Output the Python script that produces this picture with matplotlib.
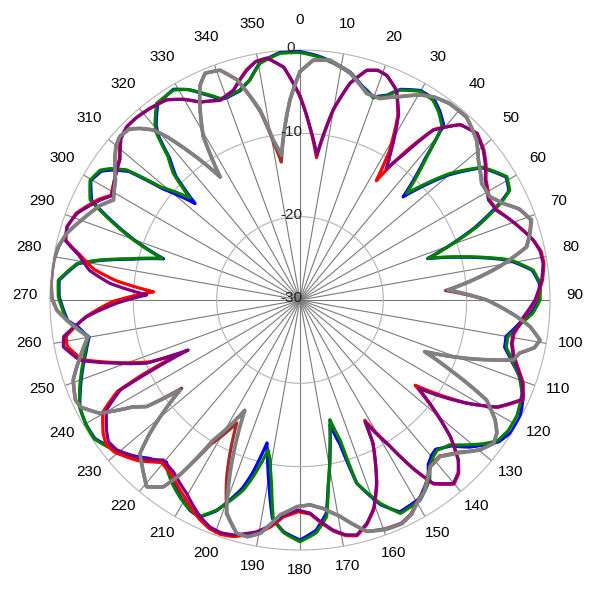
import numpy as np
import matplotlib
matplotlib.use("Agg")
import matplotlib.pyplot as plt
import matplotlib.transforms as mtransforms

# ---------------- data (angle in degrees, level in dB) ----------------
green_deg = [0, 4, 8, 12.4, 16, 19.9, 23, 25.5, 29.9, 33.6, 36.5, 39.3, 41.5, 45, 46.6, 49.8, 54, 59.2,
             62.4, 64, 67.5, 72, 74.9, 79.2, 82.7, 86, 90, 93.2, 96, 100, 103, 106.5, 109, 112.8, 118,
             122, 125.5, 128, 131, 134, 137.7, 139.6, 142, 144.2, 149, 154.8, 158.5, 162.8, 164, 166,
             168.7, 171.2, 173, 176, 180, 184, 186.9, 188.8, 190.6, 192, 194.8, 196.6, 201.6, 204.8,
             207.6, 211, 215, 219.5, 223.8, 227, 231.2, 236, 240, 244, 248.5, 256, 260, 263, 265, 270.8,
             274.7, 279.3, 281.3, 283.6, 286.8, 289.8, 292.8, 295.5, 299.7, 303, 304.7, 306.9, 309,
             312.8, 315, 317.4, 319.3, 320.6, 323.9, 329, 332, 334.9, 338.4, 340.2, 344, 347.2, 350.4,
             355.4]
green_db = [-0.3, -0.7, -1.3, -2.1, -3.3, -4.2, -3.4, -2.1, -1.1, -1.2, -2.0, -3.1, -7.0, -11.9, -10.2,
            -6.5, -2.9, -1.1, -1.6, -3.0, -7.0, -13.8, -10.1, -4.3, -1.8, -1.1, -1.2, -2.0, -3.3, -4.7,
            -4.6, -3.3, -2.2, -1.1, -0.5, -0.5, -0.9, -2.0, -3.5, -5.0, -5.6, -5.3, -4.7, -3.4, -2.0,
            -1.7, -3.8, -7.0, -12.5, -15.2, -11.6, -7.7, -3.8, -2.0, -1.0, -2.0, -3.4, -7.7, -10.5,
            -11.6, -8.1, -6.2, -2.9, -1.4, -1.55, -2.2, -3.2, -4.6, -3.5, -2.5, -1.3, -0.2, -0.3, -0.6,
            -1.6, -3.4, -4.2, -3.0, -1.9, -1.0, -0.9, -2.9, -5.5, -9.0, -12.7, -8.8, -5.3, -2.1, -1.0,
            -1.4, -2.3, -4.0, -8.4, -12.0, -8.5, -6.6, -3.6, -2.6, -0.8, -0.6, -1.4, -2.6, -4.0, -4.1,
            -3.8, -2.9, -1.2, -0.3]

blue_deg = [0, 4, 8, 12.4, 16, 19.9, 23, 25.5, 29.9, 33.6, 36.5, 39.3, 41.5, 45, 46.6, 49.8, 54, 59.2,
            62.4, 64, 67.5, 72, 74.9, 79.2, 82.7, 86, 90, 93.2, 96, 100, 103, 106.5, 109, 112.8, 118,
            122, 125.5, 128, 131, 134, 137.7, 139.6, 142, 144.2, 149, 154.8, 158.5, 162.8, 164.5, 166.5,
            169, 171.4, 173, 176, 180, 184, 187.2, 189.5, 191.5, 193, 195.4, 197, 201.6, 204.8,
            207.6, 211, 215, 219.5, 223.8, 227, 231.2, 236, 240, 244, 248.5, 256, 260, 263, 265, 270.8,
            274.7, 279.3, 281.3, 283.6, 286.8, 289.8, 292.8, 295.5, 299.7, 303, 304.7, 306.9, 309,
            312.6, 315, 317.4, 319.3, 320.6, 323.9, 329, 332, 334.9, 338.4, 340.2, 344, 347.2, 350.4,
            355.4]
blue_db = [-0.2, -0.6, -1.2, -2.0, -3.2, -4.1, -3.3, -2.0, -1.0, -1.0, -1.8, -2.8, -7.3, -12.5, -10.6,
           -6.8, -3.0, -1.2, -1.7, -3.2, -7.3, -13.9, -10.3, -4.5, -1.9, -1.2, -1.3, -2.2, -3.5, -4.9,
           -4.8, -3.4, -2.2, -0.9, -0.1, -0.1, -0.7, -1.8, -3.1, -4.8, -5.8, -5.6, -5.0, -3.7, -2.2,
           -1.9, -3.6, -7.0, -12.0, -14.6, -11.2, -7.4, -4.2, -2.3, -1.2, -2.1, -3.6, -7.5, -10.5,
           -12.4, -8.4, -6.4, -2.8, -1.3, -1.5, -2.3, -3.4, -4.8, -3.7, -2.6, -1.4, -0.3, -0.3, -0.6,
           -1.7, -3.5, -4.3, -3.2, -2.0, -1.1, -1.0, -3.0, -5.7, -9.2, -12.9, -9.0, -5.5, -2.3, -1.1,
           -1.6, -2.6, -4.3, -8.8, -12.9, -8.9, -6.9, -3.9, -2.8, -1.0, -0.5, -1.4, -2.7, -4.1, -4.2,
           -3.9, -2.9, -1.1, -0.2]

purple_deg = [0, 3.3, 6.6, 9.9, 13, 16.2, 18.7, 21.1, 24.7, 28, 31, 33.3, 35.5, 38.1, 42.4, 46.7, 50.7,
              54, 57, 62, 65.5, 69.1, 75.6, 78.5, 81.4, 85.3, 90, 94.3, 98.9, 101.6, 104.5, 107, 110.5,
              114.1, 118.5, 121.8, 126.7, 129.7, 132.3, 135.3, 137.5, 140.1, 144, 146, 148.5, 151.9,
              153, 157.3, 160.5, 163.4, 166.4, 169, 171.8, 177.3, 180.5, 184.4, 187.5, 190.6, 195.8,
              198.8, 201.7, 204.8, 210.4, 216.4, 220.5, 225.3, 230.7, 233.5, 236, 240.4, 243.4, 244.4,
              245.9, 247.6, 251.3, 254.7, 258.8, 261.2, 265.5, 269, 271.9, 275, 278, 281.5, 284.3, 287.5,
              291.2, 296.6, 299, 304, 308, 312, 315, 318, 322, 326.3, 330, 333.2, 338.2, 342.4, 347,
              349.5, 352.2, 356]
purple_db = [-5.6, -9.2, -12.5, -6.8, -3.3, -1.3, -0.9, -1.1, -2.3, -4.8, -8.5, -11.2, -8.5, -4.1,
             -1.5, -0.85, -1.6, -2.5, -3.5, -4.4, -4.1, -3.0, -1.1, -0.6, -0.5, -0.9, -1.8, -3.1, -4.1,
             -4.1, -3.6, -2.8, -1.5, -0.8, -3.1, -6.5, -12.3, -8.7, -5.6, -3.0, -1.9, -1.3, -2.8, -5.5,
             -9.5, -13.4, -10.7, -6.2, -3.5, -2.0, -1.0, -1.3, -2.1, -4.4, -4.8, -4.1, -2.7, -1.7,
             -0.7, -0.5, -0.7, -1.4, -3.1, -4.4, -4.75, -3.0, -1.6, -1.4, -2.0, -3.3, -5.9, -9.6, -15.3,
             -10.1, -6.4, -2.6, -1.05, -1.3, -4.3, -8.0, -11.6, -7.1, -4.5, -2.9, -0.9, -0.7, -1.3,
             -3.2, -4.2, -3.3, -2.6, -1.1, -0.6, -0.6, -0.8, -1.15, -2.2, -3.4, -4.2, -3.6, -1.7, -0.9,
             -0.7, -2.0]

red_deg = [0, 3.3, 6.6, 9.9, 13, 16.2, 18.7, 21.1, 24.7, 28, 31, 32.6, 35.5, 38.1, 42.4, 46.7, 50.7,
           54, 57, 62, 65.5, 69.1, 75.6, 78.5, 81.4, 85.3, 90, 94.3, 98.9, 101.6, 104.5, 107, 110.5,
           114.1, 118.5, 121.8, 126.5, 129.7, 132.3, 135.3, 137.5, 140.1, 144, 146, 148.5, 151.7,
           153, 157.3, 160.5, 163.4, 166.4, 169, 171.8, 177.3, 180.5, 184.4, 187.5, 190.6, 195.8,
           198.8, 201.7, 204.8, 210.4, 216.4, 220.5, 225.3, 230.7, 233.5, 236, 240.4, 243.4, 244.6,
           246, 247.6, 251.3, 254.7, 258.8, 261.2, 265.5, 269.5, 273.2, 276, 278.5, 281.5, 284.3, 287.5,
           291.2, 296.6, 299, 304, 308, 312, 315, 318, 322, 326.3, 330, 333.2, 338.2, 342.4, 347,
           349.5, 352.2, 356]
red_db = [-5.5, -9.3, -12.8, -6.9, -3.3, -1.3, -0.9, -1.1, -2.3, -5.0, -9.2, -13.0, -8.0, -4.0,
          -1.5, -0.8, -1.5, -2.4, -3.4, -4.3, -4.0, -3.0, -1.1, -0.5, -0.4, -0.8, -1.7, -3.0, -4.0,
          -4.0, -3.5, -2.7, -1.4, -0.7, -3.0, -6.6, -12.8, -8.8, -5.6, -3.0, -1.8, -1.2, -2.7, -5.4,
          -9.6, -13.6, -10.8, -6.1, -3.4, -1.9, -0.9, -1.2, -2.0, -4.3, -4.6, -3.9, -2.5, -1.5,
          -0.5, -0.3, -0.5, -1.1, -2.6, -4.0, -4.4, -2.6, -1.2, -1.0, -1.5, -2.8, -5.5, -9.0, -14.2,
          -10.5, -6.6, -2.9, -1.5, -1.6, -4.2, -7.5, -12.4, -7.8, -5.0, -3.1, -1.0, -0.7, -1.2,
          -3.0, -4.1, -3.3, -2.5, -1.0, -0.6, -0.6, -0.8, -1.1, -2.2, -3.4, -4.2, -3.6, -1.6, -0.9,
          -0.7, -2.0]

gray_deg = [0, 3.2, 7.1, 12.4, 17.9, 21.6, 26.2, 30.3, 33.5, 37.3, 42.3, 47.8, 51.9, 57.3, 61.5, 64.6,
            67.5, 70.9, 73.8, 76.8, 80.5, 86.1, 90, 94.4, 96.6, 99.5, 101.5, 103.6, 105.7, 109.3, 112.5,
            115, 118.2, 121.6, 124, 126.5, 129.8, 134, 138.2, 142, 144.5, 147, 150, 152.5, 155.5, 159.5,
            163.9, 169.5, 173.5, 177.2, 180.9, 185.3, 189.7, 192.5, 195.2, 199, 202, 206.6, 211.8,
            214.5, 216.2, 219.4, 222.1, 226.2, 228.4, 233.1, 235.2, 237.4, 240.5, 244, 246, 250.6,
            255.5, 260.2, 264.2, 267.6, 270.5, 273.8, 276.5, 279.2, 282.5, 286, 290.5, 295.4, 298.2,
            303, 307.8, 310, 312.2, 315, 317, 319.2, 320.8, 322.9, 327, 329.4, 333, 335, 337.3, 340.8,
            344, 348.1, 350.5, 352.7, 357.1]
gray_db = [-2.6, -1.15, -1.0, -2.1, -3.95, -4.0, -2.8, -1.5, -0.8, -0.35, -0.3, -1.4, -2.8, -4.1,
           -4.05, -3.0, -1.5, -0.6, -1.25, -2.05, -5.7, -12.2, -7.6, -3.9, -2.2, -0.8, -1.3, -2.9,
           -3.4, -8.8, -13.8, -10.1, -4.6, -2.5, -1.5, -1.1, -1.9, -3.6, -4.8, -4.6, -3.6, -2.6, -1.9,
           -1.0, -0.5, -0.6, -1.1, -3.6, -4.8, -5.4, -5.2, -4.1, -1.6, -0.9, -1.0, -2.9, -7.6, -15.2,
           -10.2, -4.5, -2.2, -1.0, -2.0, -3.4, -5.9, -12.0, -7.6, -6.2, -2.4, -0.7, -0.5, -1.15,
           -2.75, -4.2, -2.3, -0.8, -0.2, -0.05, -0.02, -0.05, -0.3, -0.9, -2.2, -3.5, -4.6, -3.6,
           -1.9, -1.2, -0.8, -1.0, -1.85, -3.05, -4.7, -7.4, -12.4, -7.2, -3.5, -1.6, -0.5, -0.8,
           -2.5, -6.7, -10.5, -12.5, -6.0]

brown_deg = [0, 3.2, 7.1, 12.4, 17.9, 21.6, 26.2, 30.3, 33.5, 37.3, 42.3, 47.8, 51.9, 57.3, 61.5, 64.6,
             67.5, 70.9, 73.8, 76.8, 80.5, 86.3, 90, 94.4, 96.6, 99.5, 101.5, 103.6, 105.7, 109.3, 112.5,
             115, 118.2, 121.6, 124, 126.5, 129.8, 134, 138.2, 142, 144.5, 147, 150, 152.5, 155.5, 159.5,
             163.9, 169.5, 173.5, 177.2, 180.9, 185.3, 189.7, 192.5, 195.2, 199, 202.5, 207.2, 211.8,
             214.5, 216.2, 219.4, 222.1, 226.2, 228.4, 233.3, 235.2, 237.4, 240.5, 244, 246, 250.6,
             255.5, 260.2, 264.2, 267.6, 270.5, 273.8, 276.5, 279.2, 282.5, 286, 290.5, 295.4, 298.2,
             303, 307.8, 310, 312.2, 315, 317, 319.2, 320.8, 322.9, 327, 329.4, 333, 335, 337.3, 340.8,
             344, 348.1, 350.5, 352.3, 357.1]
brown_db = [-2.6, -1.2, -1.0, -2.1, -3.95, -4.0, -2.8, -1.5, -0.8, -0.4, -0.35, -1.4, -2.8, -4.1,
            -4.1, -3.0, -1.5, -0.7, -1.3, -2.1, -5.8, -12.5, -7.6, -3.9, -2.2, -0.8, -1.3, -2.9,
            -3.4, -8.8, -13.8, -10.1, -4.6, -2.5, -1.5, -1.1, -1.9, -3.7, -4.9, -4.7, -3.7, -2.7, -2.0,
            -1.1, -0.6, -0.7, -1.1, -3.6, -4.8, -5.4, -5.2, -4.1, -1.6, -0.9, -1.0, -3.0, -7.0, -13.4,
            -9.6, -4.6, -2.2, -1.0, -2.0, -3.4, -5.9, -12.3, -7.6, -6.2, -2.4, -0.7, -0.5, -1.15,
            -2.75, -4.2, -2.3, -0.8, -0.25, -0.1, -0.08, -0.1, -0.35, -0.9, -2.2, -3.5, -4.6, -3.6,
            -1.9, -1.2, -0.8, -1.0, -1.85, -3.05, -4.7, -7.4, -12.4, -7.2, -3.5, -1.6, -0.5, -0.8,
            -2.5, -6.9, -10.9, -13.3, -6.0]

series = [
    ("blue", blue_deg, blue_db, 2.3),
    ("green", green_deg, green_db, 2.3),
    ("red", red_deg, red_db, 2.3),
    ("purple", purple_deg, purple_db, 2.3),
    ("brown", brown_deg, brown_db, 2.3),
    ("gray", gray_deg, gray_db, 2.7),
]

angle_labels = [str(a) for a in range(0, 360, 10)]
radial_ticks = [0, -10, -20, -30]
radial_labels = ["0", "-10", "-20", "-30"]

# ---------------- figure ----------------
plt.rcParams['font.family'] = ['Liberation Sans', 'DejaVu Sans']
fig = plt.figure(figsize=(6, 6), dpi=100)
ax = fig.add_axes([50 / 600, 50 / 600, 500 / 600, 500 / 600], projection='polar')
ax.set_theta_zero_location('N')
ax.set_theta_direction(-1)
ax.set_ylim(-30, 0)

ax.set_xticks(np.deg2rad(np.arange(0, 360, 10)))
ax.set_xticklabels([])
ax.set_yticks([-20, -10])
ax.set_yticklabels([])
ax.xaxis.grid(True, color='#7a7a7a', linewidth=0.8)
ax.yaxis.grid(True, color='#b4b4b4', linewidth=0.8)
ax.spines['polar'].set_color('#b4b4b4')
ax.spines['polar'].set_linewidth(0.8)
ax.tick_params(length=0)

for color, deg, db, lw in series:
    d = list(deg) + [deg[0] + 360]
    v = list(db) + [db[0]]
    line, = ax.plot(np.deg2rad(d), v, color=color, linewidth=lw,
                    solid_joinstyle='round', solid_capstyle='round', zorder=3)
    # let the polar transform draw each segment along the (theta, r) scale
    line.get_path()._interpolation_steps = 16

# angular labels
lab_tr = mtransforms.offset_copy(ax.transData, fig=fig, x=0, y=3.6, units='points')
for a, lab in zip(range(0, 360, 10), angle_labels):
    ax.text(np.deg2rad(a), 3.0, lab, transform=lab_tr, ha='center', va='center',
            fontsize=11, color='black', clip_on=False)

# radial labels
rad_tr = mtransforms.offset_copy(ax.transData, fig=fig, x=-6.5, y=1.1, units='points')
for r, lab in zip(radial_ticks, radial_labels):
    ax.text(0, r, lab, transform=rad_tr, ha='center', va='center', fontsize=11,
            color='#222222', zorder=5)

fig.savefig('out.png', dpi=100)
